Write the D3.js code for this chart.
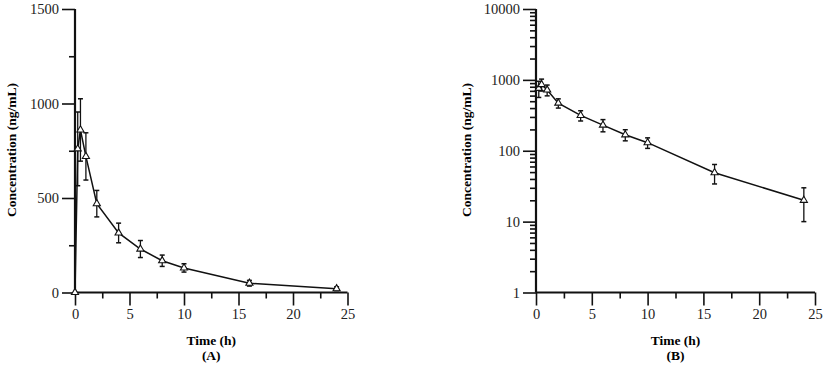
<!DOCTYPE html>
<html>
<head>
<meta charset="utf-8">
<script src="https://cdn.jsdelivr.net/npm/d3@7"></script>
<style>
body { margin: 0; background: #fff; }
</style>
</head>
<body>
<script>
// data
var times = [0, 0.25, 0.5, 1, 2, 4, 6, 8, 10, 16, 24];
var meanConc = [0, 760, 860, 720, 470, 315, 230, 168, 130, 49, 20];
var sdConc = [0, 195, 165, 125, 70, 52, 45, 30, 22, 15, 10];
var xTicks = [0, 5, 10, 15, 20, 25];
var linTicks = [0, 500, 1000, 1500];
var logTicks = [1, 10, 100, 1000, 10000];

var FONT = "'Liberation Serif', 'Times New Roman', serif";
var width = 825, height = 367;
var svg = d3.select("body").append("svg")
    .attr("width", width)
    .attr("height", height)
    .attr("font-family", FONT);

var data = times.map((t, i) => ({t: t, m: meanConc[i], sd: sdConc[i]}));

function drawPanel(opts) {
    var x = d3.scaleLinear().domain([0, 25]).range([opts.left, opts.right]);
    var y = opts.y;
    var g = svg.append("g");
    var bottom = 292.5;

    // x axis
    var xAxis = d3.axisBottom(x).tickValues(xTicks).tickSize(13).tickPadding(3);
    var xa = g.append("g").attr("transform", "translate(0," + bottom + ")").call(xAxis);
    g.append("g").attr("transform", "translate(0," + bottom + ")")
        .call(d3.axisBottom(x).tickValues([2.5, 7.5, 12.5, 17.5, 22.5]).tickSize(6).tickFormat(""))
        .select(".domain").remove();

    // y axis
    var yAxis = d3.axisLeft(y).tickValues(opts.yTicks).tickSize(13).tickPadding(3)
        .tickFormat(d3.format("d"));
    var ya = g.append("g").attr("transform", "translate(" + opts.left + ",0)").call(yAxis);
    g.append("g").attr("transform", "translate(" + opts.left + ",0)")
        .call(d3.axisLeft(y).tickValues(opts.minor).tickSize(6).tickFormat(""))
        .select(".domain").remove();

    xa.select(".domain").remove();
    ya.select(".domain").remove();
    g.selectAll("g").attr("font-family", FONT);
    g.selectAll(".tick line").attr("stroke-width", 1.6).attr("stroke", "#111");
    g.selectAll(".tick text").attr("font-size", 14.5).attr("fill", "#222");

    // plain axis lines
    g.append("line").attr("x1", opts.left).attr("x2", x(25))
        .attr("y1", bottom).attr("y2", bottom)
        .attr("stroke", "#111").attr("stroke-width", 2.2);
    g.append("line").attr("x1", opts.left).attr("x2", opts.left)
        .attr("y1", y(opts.top)).attr("y2", bottom)
        .attr("stroke", "#111").attr("stroke-width", 2.2);

    var pts = data.filter(d => opts.log ? d.m > 0 : true);

    // line
    g.append("path")
        .datum(pts)
        .attr("fill", "none")
        .attr("stroke", "#111")
        .attr("stroke-width", 1.5)
        .attr("d", d3.line().x(d => x(d.t)).y(d => y(d.m)));

    // error bars
    var eb = g.selectAll(".eb").data(pts.filter(d => d.sd > 0)).enter().append("g");
    eb.append("line")
        .attr("x1", d => x(d.t)).attr("x2", d => x(d.t))
        .attr("y1", d => y(d.m + d.sd)).attr("y2", d => y(d.m - d.sd))
        .attr("stroke", "#111").attr("stroke-width", 1.3);
    [1, -1].forEach(s => {
        eb.append("line")
            .attr("x1", d => x(d.t) - 2.5).attr("x2", d => x(d.t) + 2.5)
            .attr("y1", d => y(d.m + s * d.sd)).attr("y2", d => y(d.m + s * d.sd))
            .attr("stroke", "#111").attr("stroke-width", 1.5);
    });

    // triangles
    g.selectAll(".pt").data(pts).enter().append("path")
        .attr("d", d3.symbol().type(d3.symbolTriangle).size(22))
        .attr("transform", d => "translate(" + x(d.t) + "," + y(d.m) + ")")
        .attr("fill", "#fff")
        .attr("stroke", "#111")
        .attr("stroke-width", 1.1);

    // titles
    svg.append("text")
        .attr("transform", "translate(" + opts.yTitleX + ",150) rotate(-90)")
        .attr("text-anchor", "middle")
        .attr("font-size", 13.5)
        .attr("font-weight", "bold")
        .text("Concentration (ng/mL)");
    svg.append("text")
        .attr("x", (opts.left + x(25)) / 2)
        .attr("y", 345)
        .attr("text-anchor", "middle")
        .attr("font-size", 13.5)
        .attr("font-weight", "bold")
        .text("Time (h)");
    svg.append("text")
        .attr("x", (opts.left + x(25)) / 2)
        .attr("y", 360)
        .attr("text-anchor", "middle")
        .attr("font-size", 13.5)
        .attr("font-weight", "bold")
        .text(opts.label);
}

// panel A, linear
drawPanel({
    left: 75, right: 347.5,
    y: d3.scaleLinear().domain([0, 1500]).range([292.5, 9]),
    yTicks: linTicks, minor: [250, 750, 1250], top: 1500,
    log: false, yTitleX: 16, label: "(A)"
});

// panel B, log
var logMinor = [];
[1, 10, 100, 1000].forEach(b => { for (var k = 2; k <= 9; k++) logMinor.push(b * k); });
drawPanel({
    left: 536, right: 815,
    y: d3.scaleLog().domain([1, 10000]).range([292.5, 9]),
    yTicks: logTicks, minor: logMinor, top: 10000,
    log: true, yTitleX: 471, label: "(B)"
});
</script>
</body>
</html>
